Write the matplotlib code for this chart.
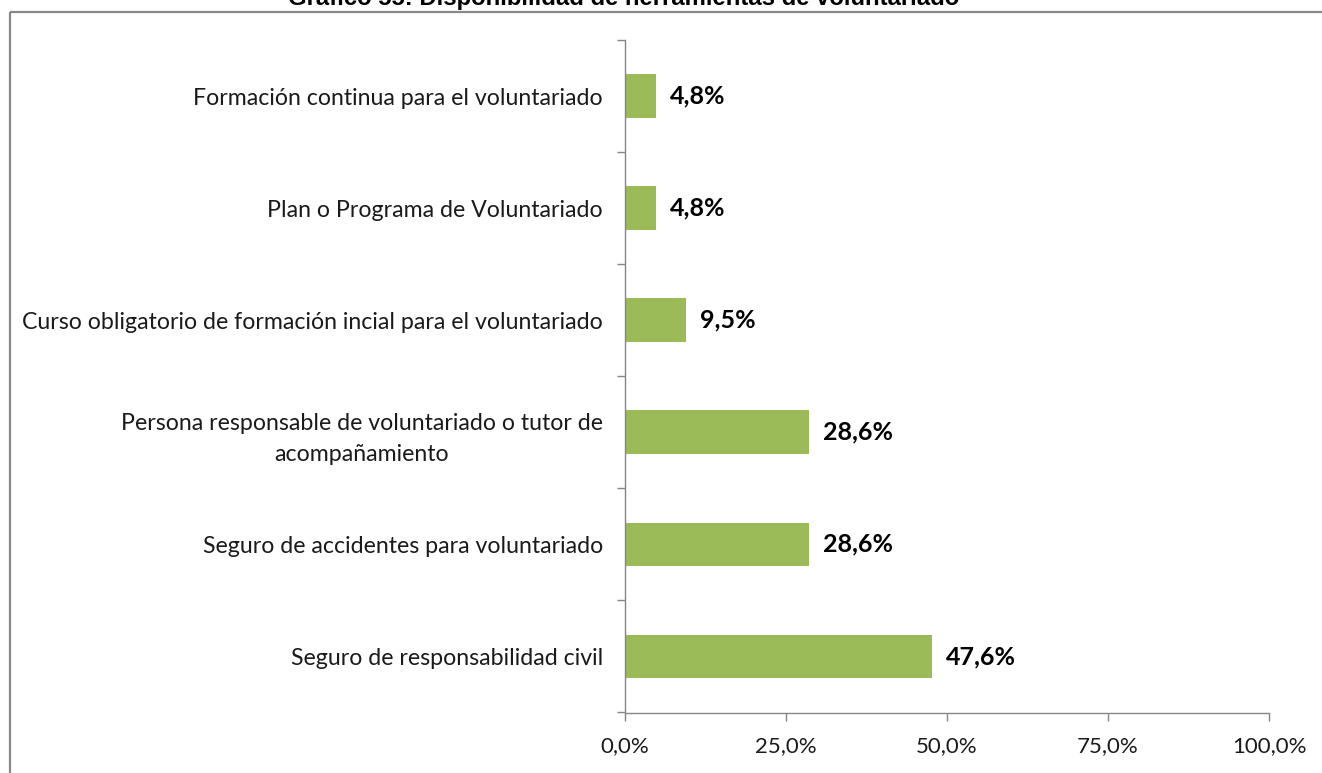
import matplotlib
matplotlib.use("Agg")
import matplotlib.pyplot as plt
import numpy as np
from matplotlib.lines import Line2D
from matplotlib.ticker import FixedLocator

# datos (de abajo hacia arriba)
categorias = [
    "Seguro de responsabilidad civil",
    "Seguro de accidentes para voluntariado",
    "Persona responsable de voluntariado o tutor de\nacompañamiento",
    "Curso obligatorio de formación incial para el voluntariado",
    "Plan o Programa de Voluntariado",
    "Formación continua para el voluntariado",
]
porcentajes = [47.6, 28.6, 28.6, 9.5, 4.8, 4.8]
ticks_x = [0, 25, 50, 75, 100]
etiquetas_x = ["0,0%", "25,0%", "50,0%", "75,0%", "100,0%"]
titulo = "Gráfico 55: Disponibilidad de herramientas de voluntariado"

W, H = 1322, 773
fig = plt.figure(figsize=(W / 100, H / 100), dpi=100)
fig.patch.set_facecolor("white")

# marco gris del gráfico
borde = "#898989"
fig.add_artist(Line2D([10 / W, 1], [1 - 11.5 / H] * 2, transform=fig.transFigure,
                      color=borde, lw=1.6, solid_capstyle="butt"))
fig.add_artist(Line2D([10 / W] * 2, [0, 1 - 11.5 / H], transform=fig.transFigure,
                      color=borde, lw=1.6, solid_capstyle="butt"))

# el título aparece recortado en el borde superior, como en el original
fig.text(623.5 / W, 1 - 5 / H, titulo, ha="center", va="baseline",
         fontsize=17.2, fontweight="bold", family=["Liberation Sans", "DejaVu Sans"])

ax = fig.add_axes([625 / W, 1 - 712.5 / H, 644 / W, 672.5 / H])

y = np.arange(len(categorias))
barras = ax.barh(y, porcentajes, height=0.39, color="#9BBB59", edgecolor="none")

ax.set_xlim(0, 100)
ax.set_ylim(-0.5, len(categorias) - 0.5)

for s in ["top", "right"]:
    ax.spines[s].set_visible(False)
for s in ["left", "bottom"]:
    ax.spines[s].set_color("#868686")
    ax.spines[s].set_linewidth(1.0)

ax.set_xticks(ticks_x)
ax.set_xticklabels(etiquetas_x, fontsize=16, family="Lato", color="#1a1a1a")
ax.tick_params(axis="x", direction="out", length=6, width=1.0, color="#868686", pad=11)

ax.set_yticks(y)
ax.set_yticklabels(categorias, fontsize=16.7, family="Lato", color="#1a1a1a",
                   multialignment="center", linespacing=1.55)
ax.tick_params(axis="y", which="major", length=0, pad=16)
ax.yaxis.set_minor_locator(FixedLocator(np.arange(-0.5, len(categorias), 1.0)))
ax.tick_params(axis="y", which="minor", direction="out", length=6, width=1.0, color="#868686")

ax.bar_label(barras, labels=[f"{v:.1f}%".replace(".", ",") for v in porcentajes],
             padding=10, fontsize=18, fontweight="bold", family="Lato", color="black")

fig.savefig("out.png", dpi=100, facecolor="white")
